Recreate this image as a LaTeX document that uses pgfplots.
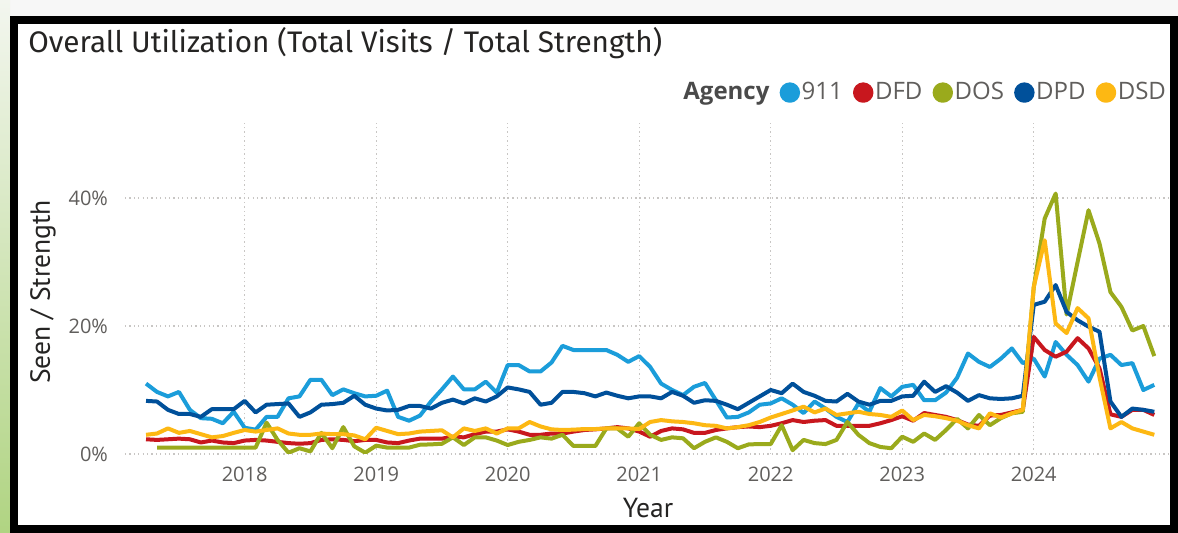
\documentclass[border=0pt]{standalone}
\usepackage{fontspec}
\setmainfont{Open Sans}
\newfontfamily\dinfont{PT Sans}
\newfontfamily\titlefont{Fira Sans}
\usepackage{pgfplots}
\usepackage{pgfplotstable}
\pgfplotsset{compat=1.18}

\definecolor{c911}{HTML}{1B9DDA}
\definecolor{cdfd}{HTML}{C8171E}
\definecolor{cdos}{HTML}{9AAA1C}
\definecolor{cdpd}{HTML}{00509A}
\definecolor{cdsd}{HTML}{FDB813}
\definecolor{txtgray}{HTML}{605E5C}
\definecolor{titlecol}{HTML}{252423}
\definecolor{agencycol}{HTML}{4A4A4A}
\definecolor{gridgray}{HTML}{C8C6C4}

% k = month index, k=0 is April 2017
\pgfplotstableread{
k a911 dfd dos dpd dsd
0 11.0 2.3 nan 8.3 3.0
1 9.7 2.2 1.0 8.2 3.2
2 9.0 2.3 1.0 6.9 4.0
3 9.7 2.4 1.0 6.25 3.3
4 6.9 2.3 1.0 6.25 3.6
5 5.6 1.8 1.0 5.8 3.1
6 5.5 2.1 1.0 7.0 2.6
7 4.8 1.8 1.0 7.0 2.8
8 6.6 1.7 1.0 7.0 3.3
9 4.1 2.1 1.0 8.3 3.75
10 3.8 2.2 1.0 6.5 3.5
11 5.8 2.1 4.9 7.7 3.75
12 5.8 1.9 2.2 7.8 4.0
13 8.7 1.7 0.2 7.9 3.2
14 9.0 1.6 0.9 5.8 3.0
15 11.6 1.7 0.4 6.5 3.0
16 11.6 2.2 3.3 7.7 3.2
17 9.2 2.3 0.9 7.8 3.1
18 10.1 2.2 4.2 8.0 3.1
19 9.5 2.0 1.2 9.1 2.9
20 9.0 2.2 0.2 7.7 2.3
21 9.1 2.2 1.3 7.1 4.1
22 9.9 1.8 1.0 6.8 3.6
23 5.8 1.7 1.0 6.9 3.1
24 5.2 2.1 1.0 7.5 3.2
25 6.0 2.4 1.45 7.5 3.5
26 8.2 2.4 1.5 7.1 3.6
27 10.1 2.4 1.6 8.0 3.7
28 12.1 2.7 2.6 8.5 2.6
29 10.1 2.6 1.4 7.9 4.0
30 10.1 3.1 2.6 8.7 3.6
31 11.3 3.5 2.6 8.2 4.0
32 9.6 3.5 2.1 9.0 3.2
33 13.9 3.85 1.4 10.4 4.0
34 13.9 3.5 1.9 10.1 4.0
35 12.9 3.0 2.2 9.7 5.0
36 12.9 3.0 2.6 7.7 4.3
37 14.3 3.2 2.4 8.0 3.85
38 16.9 3.2 3.0 9.7 3.75
39 16.25 3.5 1.25 9.7 3.8
40 16.25 3.75 1.25 9.5 3.9
41 16.25 3.85 1.25 9.0 3.9
42 16.25 4.0 4.0 9.6 4.0
43 15.5 4.2 4.0 9.1 4.0
44 14.4 4.0 2.7 8.7 4.0
45 15.3 3.5 4.8 9.0 3.9
46 13.6 2.7 3.0 9.0 5.0
47 11.0 3.6 2.2 8.7 5.3
48 10.0 4.0 2.6 9.7 5.1
49 9.2 3.85 2.45 9.1 5.0
50 10.5 3.3 0.9 8.0 4.8
51 11.1 3.3 1.9 8.4 4.5
52 8.4 3.75 2.6 8.3 4.4
53 5.7 4.0 1.9 7.7 4.0
54 5.8 4.2 0.9 7.0 4.2
55 6.5 4.3 1.5 8.0 4.5
56 7.7 4.2 1.55 9.0 5.0
57 7.9 4.4 1.55 10.0 5.7
58 8.7 4.8 4.5 9.5 6.25
59 7.7 5.3 0.6 11.0 6.8
60 6.4 5.0 2.2 9.7 7.4
61 8.2 5.2 1.7 9.1 6.5
62 7.1 5.3 1.55 8.3 7.1
63 5.8 4.4 2.2 8.2 6.1
64 5.0 4.4 5.0 9.4 6.35
65 7.9 4.4 3.0 8.2 6.6
66 6.6 4.4 1.7 7.7 6.25
67 10.3 4.8 1.1 8.3 6.1
68 9.0 5.3 0.9 8.3 5.8
69 10.5 5.9 2.7 9.0 6.8
70 10.8 5.2 1.9 9.1 5.3
71 8.4 6.4 3.2 11.3 6.1
72 8.4 6.1 2.2 9.7 5.9
73 9.6 5.8 3.75 10.6 5.6
74 11.9 5.3 5.5 9.6 5.2
75 15.7 4.6 4.0 8.3 4.5
76 14.4 4.4 6.1 9.2 4.0
77 13.6 6.0 4.5 8.7 6.35
78 14.9 6.1 5.6 8.6 5.7
79 16.5 6.5 6.35 8.7 6.35
80 14.2 6.9 6.6 9.1 6.9
81 14.9 18.3 26.0 23.3 26.1
82 12.1 16.25 36.8 23.8 33.4
83 17.5 15.2 40.7 26.4 20.4
84 15.5 16.0 21.8 22.2 18.9
85 13.9 18.1 30.0 20.9 22.8
86 11.3 16.5 38.1 19.9 21.2
87 14.9 13.4 32.9 19.1 12.0
88 15.5 6.2 25.3 8.2 4.0
89 13.9 5.8 23.0 5.8 5.0
90 14.2 6.9 19.3 7.1 4.0
91 10.0 6.9 20.0 6.9 3.5
92 10.8 6.1 15.3 6.6 3.0
}\datatable

\begin{document}
\begin{tikzpicture}
% page background and frame (1px = 0.5pt)
\fill[black!3] (0pt,0pt) rectangle (589pt,266.5pt);
\shade[top color={rgb,255:red,243;green,246;blue,239}, bottom color={rgb,255:red,176;green,212;blue,130}] (0pt,0pt) rectangle (5pt,266.5pt);
\fill[black] (5pt,0pt) rectangle (589pt,258.5pt);
\fill[white] (8.75pt,4pt) rectangle (585pt,254.5pt);
\node[anchor=west, inner sep=0pt, text=titlecol, font=\titlefont\fontsize{14.85}{17}\selectfont] at (14pt,245pt) {Overall Utilization (Total Visits / Total Strength)};

\begin{axis}[
  at={(62.5pt,39.5pt)}, anchor=south west,
  scale only axis, width=521.5pt, height=167pt,
  xmin=-1.92, xmax=93.25, ymin=0, ymax=52.2,
  axis line style={draw=none},
  major tick length=0pt,
  xtick={9,21,33,45,57,69,81},
  xticklabels={2018,2019,2020,2021,2022,2023,2024},
  ytick={0,20,40},
  yticklabel={\pgfmathprintnumber{\tick}\%},
  /pgf/number format/assume math mode=true,
  grid=major,
  major grid style={draw=gridgray, line width=0.65pt, dash pattern=on 0.65pt off 1.55pt},
  tick label style={font=\fontsize{10}{12}\selectfont, text=txtgray},
  xticklabel style={yshift=-3pt},
  yticklabel style={xshift=-5pt},
  xlabel={Year}, ylabel={Seen / Strength},
  label style={font=\dinfont\fontsize{13.8}{16}\selectfont, text=titlecol},
  xlabel style={at={(axis description cs:0.5015,-0.162)}, anchor=center},
  ylabel style={at={(axis description cs:-0.0786,0.485)}, anchor=center},
  legend columns=6,
  legend style={at={(1,1.082)}, anchor=east, draw=none, fill=none, inner sep=0pt,
    font=\fontsize{12}{14}\selectfont, text=txtgray,
    nodes={inner sep=0.8pt},
    /tikz/every even column/.append style={column sep=4.3pt}},
  legend image code/.code={\fill[#1] (4.1pt,0pt) circle (4.1pt);},
  every axis plot/.append style={line width=2pt, line join=round},
]
\addlegendimage{empty legend}
\addlegendentry{\textcolor{agencycol}{\textbf{Agency}}}
\addplot[c911] table[x=k, y=a911] {\datatable};
\addlegendentry{911}
\addplot[cdfd] table[x=k, y=dfd] {\datatable};
\addlegendentry{DFD}
\addplot[cdos] table[x=k, y=dos] {\datatable};
\addlegendentry{DOS}
\addplot[cdpd] table[x=k, y=dpd] {\datatable};
\addlegendentry{DPD}
\addplot[cdsd] table[x=k, y=dsd] {\datatable};
\addlegendentry{DSD}
\end{axis}
\end{tikzpicture}
\end{document}
